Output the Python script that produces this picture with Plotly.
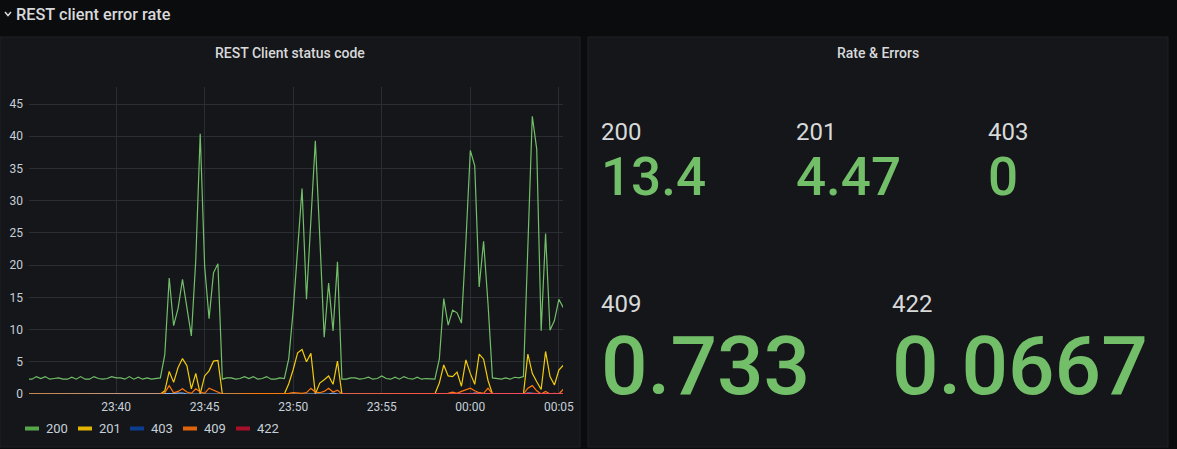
import pandas as pd
import plotly.graph_objects as go

# 15 s samples from 23:35:00 to 00:05:15
times = pd.date_range("2021-03-15 23:35:00", periods=122, freq="15s")

status_200 = [
    2.3, 2.3, 2.7, 2.4, 2.7, 2.3, 2.4, 2.5, 2.3, 2.3,
    2.6, 2.3, 2.7, 2.3, 2.3, 2.7, 2.4, 2.3, 2.4, 2.7,
    2.5, 2.5, 2.3, 2.7, 2.3, 2.6, 2.3, 2.5, 2.3, 2.4,
    2.5, 6.1, 18.0, 10.6, 13.3, 17.8, 13.0, 9.0, 20.8, 40.4,
    19.8, 11.7, 18.8, 20.2, 2.3, 2.5, 2.5, 2.3, 2.4, 2.7,
    2.4, 2.7, 2.3, 2.4, 2.7, 2.3, 2.3, 2.5, 2.4, 5.5,
    13.0, 22.3, 31.9, 14.7, 27.5, 39.3, 24.5, 8.8, 17.2, 9.8,
    20.5, 2.3, 2.3, 2.5, 2.5, 2.3, 2.4, 2.6, 2.3, 2.4,
    2.8, 2.4, 2.3, 2.6, 2.3, 2.7, 2.4, 2.3, 2.6, 2.3,
    2.4, 2.3, 2.3, 5.4, 14.8, 10.7, 13.0, 12.6, 11.0, 23.5,
    37.8, 35.4, 16.6, 23.7, 14.0, 2.5, 2.4, 2.3, 2.5, 2.3,
    2.6, 2.5, 2.7, 22.3, 43.1, 38.0, 9.8, 24.9, 9.9, 11.4,
    14.7, 13.4,
]
status_201 = [
    0, 0, 0, 0, 0, 0, 0, 0, 0, 0,
    0, 0, 0, 0, 0, 0, 0, 0, 0, 0,
    0, 0, 0, 0, 0, 0, 0, 0, 0, 0,
    0, 0.5, 3.5, 1.8, 4.1, 5.5, 4.4, 0.8, 3.2, 0,
    2.8, 3.6, 5.1, 5.2, 0, 0, 0, 0, 0, 0,
    0, 0, 0, 0, 0, 0, 0, 0, 0, 1.6,
    3.8, 6.4, 6.9, 5.0, 6.3, 0, 1.7, 2.2, 2.8, 1.5,
    5.1, 0, 0, 0, 0, 0, 0, 0, 0, 0,
    0, 0, 0, 0, 0, 0, 0, 0, 0, 0,
    0, 0, 0, 1.7, 4.5, 2.8, 2.7, 3.4, 1.2, 5.3,
    3.2, 1.5, 6.2, 5.4, 2.1, 0, 0, 0, 0, 0,
    0, 0, 0, 6.2, 3.2, 1.9, 0.7, 6.6, 2.7, 1.4,
    3.7, 4.47,
]
status_403 = [
    0, 0, 0, 0, 0, 0, 0, 0, 0, 0,
    0, 0, 0, 0, 0, 0, 0, 0, 0, 0,
    0, 0, 0, 0, 0, 0, 0, 0, 0, 0,
    0, 0, 0, 0.1, 0.15, 0.15, 0, 0, 0, 0.1,
    0.1, 0, 0, 0, 0, 0, 0, 0, 0, 0,
    0, 0, 0, 0, 0, 0, 0, 0, 0, 0,
    0, 0.1, 0.1, 0, 0, 0, 0, 0, 0, 0.15,
    0, 0, 0, 0, 0, 0, 0, 0, 0, 0,
    0, 0, 0, 0, 0, 0, 0, 0, 0, 0,
    0, 0, 0, 0, 0, 0, 0, 0, 0, 0,
    0, 0.15, 0.1, 0, 0, 0, 0, 0, 0, 0,
    0, 0, 0, 0.15, 0.1, 0, 0, 0, 0, 0,
    0, 0,
]
status_409 = [
    0, 0, 0, 0, 0, 0, 0, 0, 0, 0,
    0, 0, 0, 0, 0, 0, 0, 0, 0, 0,
    0, 0, 0, 0, 0, 0, 0, 0, 0, 0,
    0, 0.2, 1.3, 0.2, 0.4, 0.8, 0.3, 0.1, 0.8, 0.3,
    0.1, 0.9, 0.6, 0.2, 0, 0, 0, 0, 0, 0,
    0, 0, 0, 0, 0, 0, 0, 0, 0, 0.1,
    0.2, 0.1, 0.1, 0.2, 0.9, 0.3, 0.2, 0.4, 0.9, 0.3,
    0.6, 0, 0, 0, 0, 0, 0, 0, 0, 0,
    0, 0, 0, 0, 0, 0, 0, 0, 0, 0,
    0, 0, 0, 0, 0.1, 0.1, 0.3, 0.1, 0.4, 0.7,
    0.9, 0.5, 0.2, 0.1, 0.9, 0, 0, 0, 0, 0,
    0, 0, 0, 0.9, 1.3, 0.5, 0, 0.4, 0, 0.1,
    0, 0.733,
]
status_422 = [
    None, None, None, None, None, None, None, None, None, None,
    None, None, None, None, None, None, None, None, None, None,
    None, None, None, None, None, None, None, None, None, None,
    None, None, None, None, None, None, None, None, None, None,
    None, None, None, None, None, None, None, None, None, None,
    None, None, None, None, None, None, None, None, None, None,
    None, None, None, None, None, None, None, None, None, None,
    None, 0, 0, 0, 0, 0, 0, 0, 0, 0,
    0, 0, 0, 0, 0, 0, 0, 0, 0, 0,
    0, 0, 0, 0, 0, 0, 0, 0, 0, 0,
    0, 0, 0, 0, 0, 0, 0, 0, 0, 0,
    0, 0, 0, 0, 0, 0, 0, 0, 0, 0,
    0, 0.0667,
]

series_names = ["200", "201", "403", "409", "422"]
series_values = [status_200, status_201, status_403, status_409, status_422]
line_colors = ["#73bf69", "#f2cc0c", "#8ab8ff", "#ff780a", "#f2495c"]
legend_colors = ["#56a64b", "#e0b400", "#0b3d91", "#e0640c", "#a8102a"]

W, H = 1177, 449
BG = "#0b0c0e"
PANEL = "#141619"
TEXT = "#d8d9da"
TICK = "#c7d0d9"
GRID = "#2a2d32"
GREEN = "#73bf69"


def px(x):
    return x / W


def py(y):
    return 1 - y / H


fig = go.Figure()
for name, vals, col in zip(series_names, series_values, line_colors):
    fig.add_trace(go.Scatter(
        x=times, y=vals, name=name, mode="lines",
        line=dict(color=col, width=1.2),
        showlegend=False, hoverinfo="skip",
    ))

shapes = []
annotations = []

# panels
for x0, x1 in [(0, 580), (588, 1168)]:
    shapes.append(dict(type="rect", xref="paper", yref="paper",
                       x0=px(x0), x1=px(x1), y0=py(447), y1=py(37),
                       fillcolor=PANEL, line=dict(color="#1e2125", width=1),
                       layer="below"))

# row header chevron
shapes.append(dict(type="path", xref="paper", yref="paper",
                   path=f"M {px(5)},{py(12)} L {px(8)},{py(15.5)} L {px(11)},{py(12)}",
                   line=dict(color=TEXT, width=1.5)))
annotations.append(dict(text="REST client error rate", x=px(14), y=py(14),
                        xref="paper", yref="paper", xanchor="left", yanchor="middle",
                        showarrow=False,
                        font=dict(family="Roboto", size=16.3, color=TEXT, weight=500)))

# panel titles
for title, cx in [("REST Client status code", 290), ("Rate & Errors", 878)]:
    annotations.append(dict(text=title, x=px(cx), y=py(53), xref="paper", yref="paper",
                            xanchor="center", yanchor="middle", showarrow=False,
                            font=dict(family="Roboto", size=14, color=TEXT, weight=500)))

# manual legend
for i, (name, col) in enumerate(zip(series_names, legend_colors)):
    sx = [25, 78, 130, 183, 236][i]
    shapes.append(dict(type="rect", xref="paper", yref="paper",
                       x0=px(sx), x1=px(sx + 14), y0=py(430.5), y1=py(426.5),
                       fillcolor=col, line=dict(width=0)))
    annotations.append(dict(text=name, x=px(sx + 19), y=py(428.5), xref="paper", yref="paper",
                            xanchor="left", yanchor="middle", showarrow=False,
                            font=dict(family="Roboto", size=13, color=TICK)))

# stat panel: last value of each series
stat_layout = [
    # (label x, label y, value y, value size)
    (599, 131.5, 176.5, 53),
    (794, 131.5, 176.5, 53),
    (986, 131.5, 176.5, 53),
    (599, 303.5, 366, 82),
    (890, 303.5, 366, 82),
]
for name, vals, (sx, ly, vy, vs) in zip(series_names, series_values, stat_layout):
    annotations.append(dict(text=name, x=px(sx), y=py(ly), xref="paper", yref="paper",
                            xanchor="left", yanchor="middle", showarrow=False,
                            font=dict(family="Roboto", size=24, color=TEXT)))
    annotations.append(dict(text=f"{vals[-1]:.3g}", x=px(sx), y=py(vy), xref="paper", yref="paper",
                            xanchor="left", yanchor="middle", showarrow=False,
                            font=dict(family="Roboto", size=vs, color=GREEN, weight=500)))

fig.update_layout(
    width=W, height=H,
    margin=dict(l=0, r=0, t=0, b=0, autoexpand=False),
    paper_bgcolor=BG,
    plot_bgcolor="rgba(0,0,0,0)",
    showlegend=False,
    shapes=shapes,
    annotations=annotations,
    font=dict(family="Roboto", color=TICK),
    xaxis=dict(
        domain=[px(29), px(563)],
        type="date",
        range=["2021-03-15 23:35:05", "2021-03-16 00:05:14"],
        dtick=300000, tickformat="%H:%M",
        showgrid=True, gridcolor=GRID, gridwidth=1,
        zeroline=False, showline=False, ticks="",
        tickfont=dict(family="Roboto", size=12, color=TICK),
        ticklabelstandoff=4, automargin=False,
    ),
    yaxis=dict(
        domain=[py(394), py(87)],
        range=[0, 47.64], dtick=5,
        showgrid=True, gridcolor=GRID, gridwidth=1,
        zeroline=False, showline=False, ticks="",
        tickfont=dict(family="Roboto", size=12, color=TICK),
        ticklabelstandoff=5, automargin=False,
    ),
)

fig.write_html("out.html", config={"displayModeBar": False},
               post_script="document.body.style.margin='0';document.body.style.overflow='hidden';")
